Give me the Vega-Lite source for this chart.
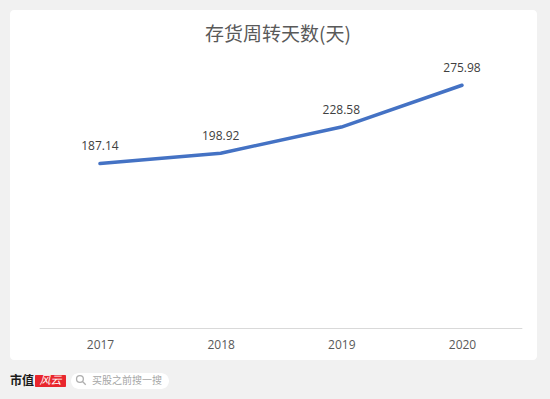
{
  "$schema": "https://vega.github.io/schema/vega-lite/v6.json",
  "width": 527,
  "height": 350,
  "autosize": {"type": "none"},
  "padding": {"left": 10, "top": 10, "right": 13, "bottom": 39},
  "background": "#f1f1f1",
  "config": {"view": {"fill": "#ffffff", "stroke": null, "cornerRadius": 4}},
  "title": {
    "text": "存货周转天数(天)",
    "font": "Noto Sans CJK SC",
    "fontSize": 19,
    "fontWeight": "normal",
    "color": "#595959",
    "anchor": "middle",
    "frame": "group",
    "baseline": "middle",
    "offset": 0,
    "dy": 43.5,
    "dx": 4.5
  },
  "data": {
    "values": [
      {"year": 2017, "days": 187.14},
      {"year": 2018, "days": 198.92},
      {"year": 2019, "days": 228.58},
      {"year": 2020, "days": 275.98}
    ]
  },
  "layer": [
    {
      "mark": {"type": "line", "color": "#4472C4", "strokeWidth": 3.5, "strokeCap": "round", "strokeJoin": "round"},
      "encoding": {
        "x": {
          "field": "year",
          "type": "quantitative",
          "scale": {"domain": [2016.2542, 2020.6215], "nice": false, "zero": false},
          "axis": {
            "orient": "bottom",
            "values": [2017, 2018, 2019, 2020],
            "format": "d",
            "domain": false,
            "ticks": false,
            "tickSize": 0,
            "grid": false,
            "labels": true,
            "labelPadding": 12,
            "labelFont": "Open Sans",
            "labelFontSize": 12,
            "labelColor": "#595959",
            "labelFlush": false,
            "labelOverlap": false,
            "labelBound": false,
            "offset": -33,
            "title": null
          }
        },
        "y": {"field": "days", "type": "quantitative", "scale": {"domain": [-35.74, 361.36], "nice": false, "zero": false}, "axis": null}
      }
    },
    {
      "data": {"values": [{"k": "axis"}]},
      "mark": {"type": "rule", "color": "#d9d9d9", "strokeWidth": 1},
      "encoding": {
        "x": {"datum": 2016.5, "type": "quantitative"},
        "x2": {"datum": 2020.5},
        "y": {"datum": 0, "type": "quantitative"}
      }
    },
    {
      "mark": {"type": "text", "font": "Open Sans", "fontSize": 12, "color": "#404040", "dy": -17.5, "baseline": "middle", "align": "center"},
      "encoding": {
        "x": {"field": "year", "type": "quantitative"},
        "y": {"field": "days", "type": "quantitative"},
        "text": {"field": "days", "type": "quantitative", "format": ".2f"}
      }
    },
    {
      "data": {"values": [{"k": "logo"}]},
      "mark": {"type": "text", "text": "市值", "font": "Noto Sans CJK SC", "fontSize": 12, "fontWeight": "bold", "color": "#1a1a1a", "baseline": "middle", "align": "center"},
      "encoding": {
        "x": {"datum": 2016.3536, "type": "quantitative"},
        "y": {"datum": -59.0, "type": "quantitative"}
      }
    },
    {
      "data": {"values": [{"k": "logobox"}]},
      "mark": {"type": "rect", "color": "#e8262d", "cornerRadius": 1},
      "encoding": {
        "x": {"datum": 2016.4613, "type": "quantitative"},
        "x2": {"datum": 2016.7182},
        "y": {"datum": -52.76, "type": "quantitative"},
        "y2": {"datum": -66.37}
      }
    },
    {
      "data": {"values": [{"k": "logotext"}]},
      "mark": {"type": "text", "text": "风云", "font": "Noto Sans CJK SC", "fontSize": 11, "fontStyle": "italic", "color": "#ffffff", "baseline": "middle", "align": "center"},
      "encoding": {
        "x": {"datum": 2016.5898, "type": "quantitative"},
        "y": {"datum": -59.56, "type": "quantitative"}
      }
    },
    {
      "data": {"values": [{"k": "pill"}]},
      "mark": {"type": "rect", "color": "#ffffff", "cornerRadius": 8},
      "encoding": {
        "x": {"datum": 2016.7597, "type": "quantitative"},
        "x2": {"datum": 2017.5718},
        "y": {"datum": -50.46, "type": "quantitative"},
        "y2": {"datum": -68.64}
      }
    },
    {
      "data": {"values": [{"k": "icon"}]},
      "mark": {"type": "point", "shape": "M0.25,0.25L0.9,0.9M0.45,-0.2A0.65,0.65 0 1,1 -0.85,-0.2A0.65,0.65 0 1,1 0.45,-0.2", "size": 110, "filled": false, "stroke": "#8c8c8c", "strokeWidth": 1.3},
      "encoding": {
        "x": {"datum": 2016.8425, "type": "quantitative"},
        "y": {"datum": -58.43, "type": "quantitative"}
      }
    },
    {
      "data": {"values": [{"k": "search"}]},
      "mark": {"type": "text", "text": "买股之前搜一搜", "font": "Noto Sans CJK SC", "fontSize": 10, "color": "#a6a6a6", "baseline": "middle", "align": "left"},
      "encoding": {
        "x": {"datum": 2016.9337, "type": "quantitative"},
        "y": {"datum": -59.0, "type": "quantitative"}
      }
    }
  ]
}
